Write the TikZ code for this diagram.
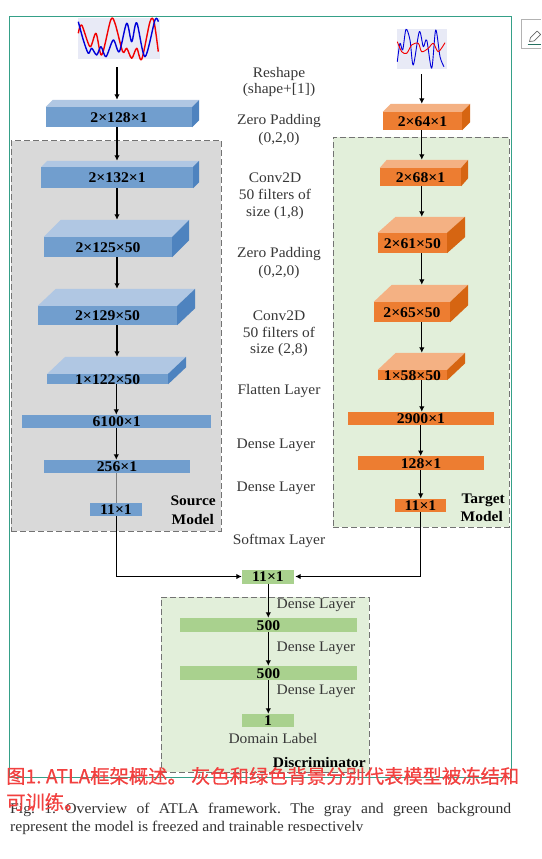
\documentclass[tikz,border=0pt]{standalone}
\usepackage{fontspec}
\setmainfont[FakeStretch=1.06]{Liberation Serif}
\newfontfamily\cjkfont[FakeBold=0.5]{Noto Sans CJK SC}
\usetikzlibrary{positioning,arrows.meta,calc}
\definecolor{bluefront}{HTML}{719ECE}
\definecolor{bluetop}{HTML}{B0C7E3}
\definecolor{blueside}{HTML}{4E83BF}
\definecolor{orangefront}{HTML}{ED7D31}
\definecolor{orangetop}{HTML}{F4B183}
\definecolor{orangeside}{HTML}{D66512}
\definecolor{greenbox}{HTML}{A9D18E}
\definecolor{greenbg}{HTML}{E2EFDA}
\definecolor{graybg}{HTML}{D9D9D9}
\definecolor{framecol}{HTML}{35A088}
\definecolor{redtext}{HTML}{F2403F}
\definecolor{sigbg}{HTML}{E8EAF6}

\begin{document}
\frenchspacing
\begin{tikzpicture}[
  x=1pt, y=-1pt,
  lbl/.style={font=\fontsize{14.6}{16}\selectfont, text=black!78, inner sep=0pt, yshift=-1.5pt},
  capt/.style={font=\fontsize{14.8}{16}\selectfont, text=black!80, inner sep=0pt, anchor=west, yshift=-1.5pt},
  boldt/.style={font=\fontsize{14.6}{16}\selectfont\bfseries, inner sep=0pt, anchor=east, yshift=-1pt},
  cjkt/.style={font=\cjkfont\fontsize{19.3}{22}\selectfont, text=redtext, inner sep=0pt, anchor=west},
  every label/.style={font=\fontsize{14.8}{16}\selectfont\bfseries, inner sep=0pt, yshift=-0.5pt},
  bluev/.style={fill=bluefront, inner sep=0pt},
  orangev/.style={fill=orangefront, inner sep=0pt},
  greenv/.style={fill=greenbox, inner sep=0pt},
  region/.style={draw=black!55, line width=0.9pt, dash pattern=on 6pt off 3pt, inner sep=0pt},
  flow/.style={draw=black, line width=1.3pt, -{Latex[length=5.5pt,width=5.5pt]}},
  sigblue/.style={draw=blue!85!black, line width=1.4pt, line join=round},
  sigred/.style={draw=red!95!black, line width=1.4pt, line join=round}
]
\useasboundingbox (0,0) rectangle (541,859);
\fill[white] (0,0) rectangle (541,859);

\node[draw=framecol, line width=0.8pt, minimum width=502, minimum height=760.5, inner sep=0pt] (frame) at (260.5,396.75) {};
\node[region, fill=graybg, minimum width=210, minimum height=390.5] (srcbg) at (116,335.75) {};
\node[region, fill=greenbg, minimum width=176, minimum height=390] (tgtbg) at (421,332) {};
\node[region, fill=greenbg, minimum width=208, minimum height=175] (disbg) at (265,684.5) {};

\node[fill=sigbg, minimum width=82, minimum height=41, inner sep=0pt] (srcsig) at (119,38.5) {};
\node[fill=sigbg, minimum width=50, minimum height=40, inner sep=0pt] (tgtsig) at (422,49) {};
\draw[sigred] plot[smooth, tension=0.5] coordinates {(78.3,33.3) (81.7,25) (90,46.7) (96,33.3) (101.7,55) (110.7,20) (115,23.3) (122.7,51.7) (126.7,48.3) (131.7,58.3) (136.7,48.3) (141.7,59.3) (150,21.7) (154,21.7) (158.3,51.7)};
\draw[sigblue] plot[smooth, tension=0.5] coordinates {(78.3,21.7) (83.3,40) (88.3,53.3) (91.7,48.3) (96.7,55) (101,46.7) (106,56.7) (113.3,40) (119.3,51.7) (126.7,23.3) (131.7,41.7) (136.7,22.7) (145,56.7) (155,20) (158.3,21.7)};
\draw[sigblue, line width=0.9pt] plot[smooth, tension=0.5] coordinates {(397.3,61.7) (400,43.3) (402.7,50) (406,29.3) (410,40) (413.3,65) (419.3,31.7) (423.3,46.7) (426.7,40) (431.7,68.3) (435.7,30) (440,56.7) (444,66.7)};
\draw[sigred, line width=0.9pt] plot[smooth, tension=0.5] coordinates {(397.3,41.7) (401.7,51.7) (406.7,53.3) (411.7,45) (418.3,43.3) (421.7,51.7) (428.3,48.3) (433.3,43.3) (438.3,51.7) (445,42.7)};

\node[bluev, minimum width=146, minimum height=20, label=center:{2×128×1}] (ba) at (119,117) {};
\node[bluev, minimum width=151.5, minimum height=21, label=center:{2×132×1}] (bb) at (117.2,177.5) {};
\node[bluev, minimum width=128, minimum height=20, label=center:{2×125×50}] (bc) at (108,247) {};
\node[bluev, minimum width=139, minimum height=19, label=center:{2×129×50}] (bd) at (107.5,315.5) {};
\node[bluev, minimum width=120.5, minimum height=10, label=center:{1×122×50}] (be) at (107.7,379) {};
\node[bluev, minimum width=188.5, minimum height=13, label=center:{6100×1}] (bf) at (116.7,421.5) {};
\node[bluev, minimum width=146, minimum height=13, label=center:{256×1}] (bg) at (117,466.5) {};
\node[bluev, minimum width=52, minimum height=13, label=center:{11×1}] (bh) at (116,509.5) {};

\node[orangev, minimum width=79, minimum height=18, label=center:{2×64×1}] (oa) at (422.5,121) {};
\node[orangev, minimum width=81, minimum height=18, label=center:{2×68×1}] (ob) at (420.5,177) {};
\node[orangev, minimum width=69, minimum height=20, label=center:{2×61×50}] (oc) at (412.3,243) {};
\node[orangev, minimum width=76, minimum height=20, label=center:{2×65×50}] (od) at (412,312) {};
\node[orangev, minimum width=69, minimum height=10, label=center:{1×58×50}] (oe) at (412.5,375) {};
\node[orangev, minimum width=146, minimum height=13, label=center:{2900×1}] (of) at (421,418.5) {};
\node[orangev, minimum width=126, minimum height=13.5, label=center:{128×1}] (og) at (421,463) {};
\node[orangev, minimum width=51, minimum height=13, label=center:{11×1}] (oh) at (420.5,505.5) {};

\foreach \nm/\dx/\dy in {ba/7/-7, bb/6/-6, bc/17/-17, bd/18/-17, be/18/-17} {
  \fill[bluetop] (\nm.north west) -- ++(\dx,\dy) -- ($(\nm.north east)+(\dx,\dy)$) -- (\nm.north east) -- cycle;
  \fill[blueside] (\nm.north east) -- ++(\dx,\dy) -- ($(\nm.south east)+(\dx,\dy)$) -- (\nm.south east) -- cycle;
  \coordinate (\nm-t) at ($(\nm.north)+(0,\dy)$);
}
\foreach \nm/\dx/\dy in {oa/8/-8, ob/7/-8, oc/18/-16, od/18/-17, oe/18/-17} {
  \fill[orangetop] (\nm.north west) -- ++(\dx,\dy) -- ($(\nm.north east)+(\dx,\dy)$) -- (\nm.north east) -- cycle;
  \fill[orangeside] (\nm.north east) -- ++(\dx,\dy) -- ($(\nm.south east)+(\dx,\dy)$) -- (\nm.south east) -- cycle;
  \coordinate (\nm-t) at ($(\nm.north)+(0,\dy)$);
}

\node[greenv, minimum width=52, minimum height=14, label=center:{11×1}] (gc) at (268,576.5) {};
\node[greenv, minimum width=177, minimum height=14, label=center:{500}] (gd) at (268.5,625) {};
\node[greenv, minimum width=177, minimum height=14, label=center:{500}] (ge) at (268.5,673) {};
\node[greenv, minimum width=52, minimum height=13, label=center:{1}] (gf) at (268,720.5) {};

\coordinate (sx) at (117,0);
\coordinate (sxb) at (116.3,0);
\coordinate (rx) at (421.8,0);
\coordinate (rxb) at (420.7,0);
\coordinate (gx) at (268.3,0);

\draw[flow] ([yshift=-8pt]srcsig.south -| sx) -- (ba-t -| sx);
\draw[flow] (ba.south -| sx) -- (bb-t -| sx);
\draw[flow] (bb.south -| sx) -- (bc-t -| sx);
\draw[flow] (bc.south -| sx) -- (bd-t -| sx);
\draw[flow] (bd.south -| sx) -- (be-t -| sx);
\draw[flow] (be.south -| sxb) -- (bf.north -| sxb);
\draw[flow] (bf.south -| sxb) -- (bg.north -| sxb);
\draw[draw=black!50, line width=0.6pt] (bg.south -| sxb) -- (bh.north -| sxb);
\draw[flow] (bh.south -| sxb) |- (gc.west);

\draw[flow] ([yshift=-5pt]tgtsig.south -| rx) -- (oa-t -| rx);
\draw[flow] (oa.south -| rx) -- (ob-t -| rx);
\draw[flow] (ob.south -| rx) -- (oc-t -| rx);
\draw[flow] (oc.south -| rx) -- (od-t -| rx);
\draw[flow] (od.south -| rx) -- (oe-t -| rx);
\draw[flow] (oe.south -| rx) -- (of.north -| rx);
\draw[flow] (of.south -| rxb) -- (og.north -| rxb);
\draw[flow] (og.south -| rxb) -- (oh.north -| rxb);
\draw[flow] (oh.south -| rxb) |- ([xshift=1pt]gc.east);

\draw[flow] (gc.south -| gx) -- (gd.north -| gx);
\draw[flow] (gd.south -| gx) -- (ge.north -| gx);
\draw[flow] (ge.south -| gx) -- (gf.north -| gx);

\node[lbl] (l1) at (279,72) {Reshape};
\node[lbl] (l2) at (279,88) {(shape+[1])};
\node[lbl] (l3) at (279,120) {Zero Padding};
\node[lbl] (l4) at (279,137) {(0,2,0)};
\node[lbl] (l5) at (275,176) {Conv2D};
\node[lbl] (l6) at (275,193) {50 filters of};
\node[lbl] (l7) at (275,211) {size (1,8)};
\node[lbl] (l8) at (279,253) {Zero Padding};
\node[lbl] (l9) at (279,270) {(0,2,0)};
\node[lbl] (l10) at (279,314) {Conv2D};
\node[lbl] (l11) at (279,331) {50 filters of};
\node[lbl] (l12) at (279,348) {size (2,8)};
\node[lbl] (l13) at (279,390) {Flatten Layer};
\node[lbl] (l14) at (276,444) {Dense Layer};
\node[lbl] (l15) at (276,487) {Dense Layer};
\node[lbl] (l16) at (279,539) {Softmax Layer};
\node[lbl] (d1) at (316,604) {Dense Layer};
\node[lbl] (d2) at (316,647) {Dense Layer};
\node[lbl] (d3) at (316,690) {Dense Layer};
\node[lbl] (dl) at (273,737) {Domain Label};

\node[boldt] (sm1) at (216,500) {Source};
\node[boldt] (sm2) at (214,518) {Model};
\node[boldt] (tm1) at (505,499) {Target};
\node[boldt] (tm2) at (503,516) {Model};
\node[boldt] (dn) at (366,761) {Discriminator};

\node[capt] (cp1) at (10,808) {\makebox[501pt][s]{Fig. 1. Overview of ATLA framework. The gray and green background}};
\node[capt] (cp2) at (10,826) {represent the model is freezed and trainable respectively};
\fill[white] (290,831) rectangle (375,845);

\node[cjkt] (zh1) at (6,776) {图1. ATLA框架概述。 灰色和绿色背景分别代表模型被冻结和};
\node[cjkt] (zh2) at (6,802) {可训练。};

\fill[black!30] (521,19) rectangle (541,49);
\node[fill=white, minimum width=19, minimum height=28, inner sep=0pt] (editbox) at (531.5,34) {};
\draw[draw=black!60, line width=0.7pt, line join=round] (529.5,41.5) -- (530.5,37.5) -- (537,31) -- (540.5,34.5) -- (534,41) -- cycle;
\draw[draw=framecol!70!black, line width=0.7pt] (527.5,44) -- (541,44);

\end{tikzpicture}
\end{document}
